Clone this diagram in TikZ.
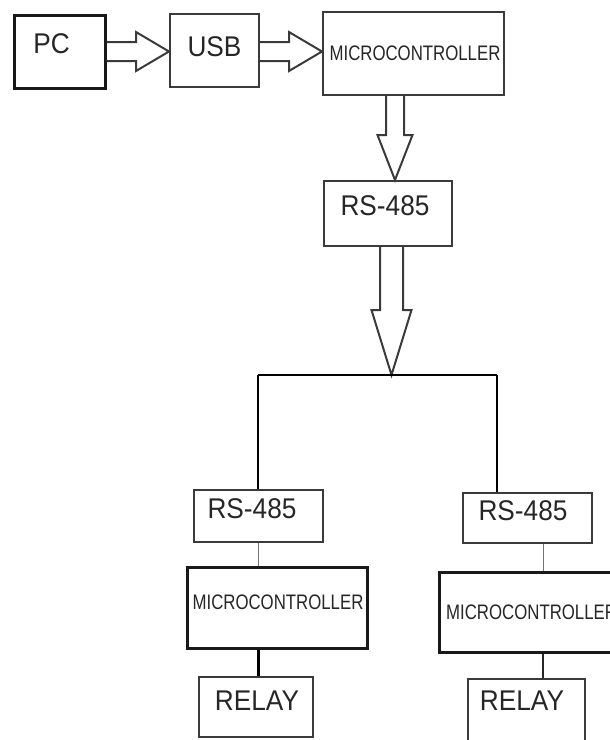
\documentclass[tikz,border=0pt]{standalone}
\usepackage{fontspec}
\setmainfont{Liberation Sans}
\usepackage{graphicx}
\usetikzlibrary{calc}
\definecolor{ink}{HTML}{262626}
\definecolor{edge}{HTML}{3A3A3A}
\tikzset{
  box/.style={draw=edge, line width=2pt, fill=none, inner sep=0pt},
  thickbox/.style={draw=black!90, line width=3pt, fill=none, inner sep=0pt},
  txt/.style={text=ink, inner sep=0pt, font=\fontsize{28.5}{32}\selectfont},
  mctxt/.style={text=ink, inner sep=0pt, font=\fontsize{21}{25}\selectfont},
  hollow/.style={draw=edge, line width=2pt, line join=miter},
  bus/.style={draw=black, line width=1.6pt},
  thin/.style={draw=black!55, line width=1pt}
}
\newcommand{\mcword}{\scalebox{0.8}[1]{MICROCONTROLLER}}
\newcommand{\cond}[1]{\scalebox{0.92}[1]{#1}}
\begin{document}
\begin{tikzpicture}[x=1pt,y=-1pt]
\useasboundingbox (0,0) rectangle (610,740);
\clip (0,0) rectangle (610,740);
% boxes (image coordinates, y downward)
\node[thickbox, minimum width=91pt, minimum height=73pt] (pc) at (59.5,51.5) {};
\node[box, minimum width=89pt, minimum height=73pt] (usb) at (214.5,50.5) {};
\node[box, minimum width=181pt, minimum height=83pt] (mc0) at (413.5,53.5) {};
\node[box, minimum width=128pt, minimum height=65pt] (rs0) at (388,213.5) {};
\node[box, minimum width=129pt, minimum height=52pt] (rsL) at (258.5,516) {};
\node[thickbox, minimum width=180pt, minimum height=81pt] (mcL) at (277,608) {};
\node[box, minimum width=114pt, minimum height=60pt] (relL) at (256,707) {};
\node[box, minimum width=129pt, minimum height=50pt] (rsR) at (527.5,518) {};
\node[thickbox, minimum width=181pt, minimum height=80pt] (mcR) at (529.5,612) {};
\node[box, minimum width=117pt, minimum height=70pt] (relR) at (526.5,714) {};
% texts
\node[txt] (pct) at (51.5,44) {\cond{PC}};
\node[txt] (usbt) at (214.5,47) {\cond{USB}};
\node[mctxt] (mc0t) at (415,53) {\mcword};
\node[txt] (rs0t) at (385,206) {\cond{RS-485}};
\node[txt] (rsLt) at (252,509) {\cond{RS-485}};
\node[mctxt] (mcLt) at (278,602) {\mcword};
\node[txt] (relLt) at (257,701) {\cond{RELAY}};
\node[txt] (rsRt) at (523,511) {\cond{RS-485}};
\node[mctxt, anchor=west] (mcRt) at (446,612) {\mcword};
\node[txt] (relRt) at (522,701) {\cond{RELAY}};
% horizontal hollow arrows
\coordinate (t1) at (usb.west |- pc.east);
\draw[hollow] ($(pc.east)+(0,-9.5)$) -- ($(t1)+(-33,-9.5)$) -- ($(t1)+(-33,-19.5)$) -- (t1)
  -- ($(t1)+(-33,19.5)$) -- ($(t1)+(-33,9.5)$) -- ($(pc.east)+(0,9.5)$);
\coordinate (t2) at (mc0.west |- pc.east);
\draw[hollow] ($(usb.east|-pc.east)+(0,-9.5)$) -- ($(t2)+(-33,-9.5)$) -- ($(t2)+(-33,-19.5)$) -- (t2)
  -- ($(t2)+(-33,19.5)$) -- ($(t2)+(-33,9.5)$) -- ($(usb.east|-pc.east)+(0,9.5)$);
% vertical hollow arrows
\coordinate (ax1) at (395,0);
\coordinate (s3) at (mc0.south -| ax1);
\coordinate (t3) at (rs0.north -| ax1);
\draw[hollow] ($(s3)+(-9,0)$) -- ($(t3)+(-9,-45)$) -- ($(t3)+(-17.5,-45)$) -- (t3)
  -- ($(t3)+(17.5,-45)$) -- ($(t3)+(9,-45)$) -- ($(s3)+(9,0)$);
\coordinate (busL) at (258,375);
\coordinate (busR) at (497,375);
\coordinate (ax2) at (391.5,0);
\coordinate (s4) at (rs0.south -| ax2);
\coordinate (t4) at (busL -| ax2);
\draw[hollow] ($(s4)+(-11.5,0)$) -- ($(t4)+(-11.5,-65)$) -- ($(t4)+(-20,-65)$) -- (t4)
  -- ($(t4)+(20,-65)$) -- ($(t4)+(11.5,-65)$) -- ($(s4)+(11.5,0)$);
% bus and drops
\draw[bus] (busL) -- (busR);
\draw[bus] (busL) -- (busL |- rsL.north);
\draw[bus] (busR) -- (busR |- rsR.north);
% lower connectors
\draw[thin] (rsL.south) -- (rsL.south |- mcL.north);
\draw[draw=black, line width=3pt] (mcL.south -| rsL.south) -- (relL.north -| rsL.south);
\coordinate (ax3) at (543,0);
\draw[thin] (rsR.south -| ax3) -- (mcR.north -| ax3);
\draw[draw=black!85, line width=2.5pt] (mcR.south -| ax3) -- (relR.north -| ax3);
\end{tikzpicture}
\end{document}
